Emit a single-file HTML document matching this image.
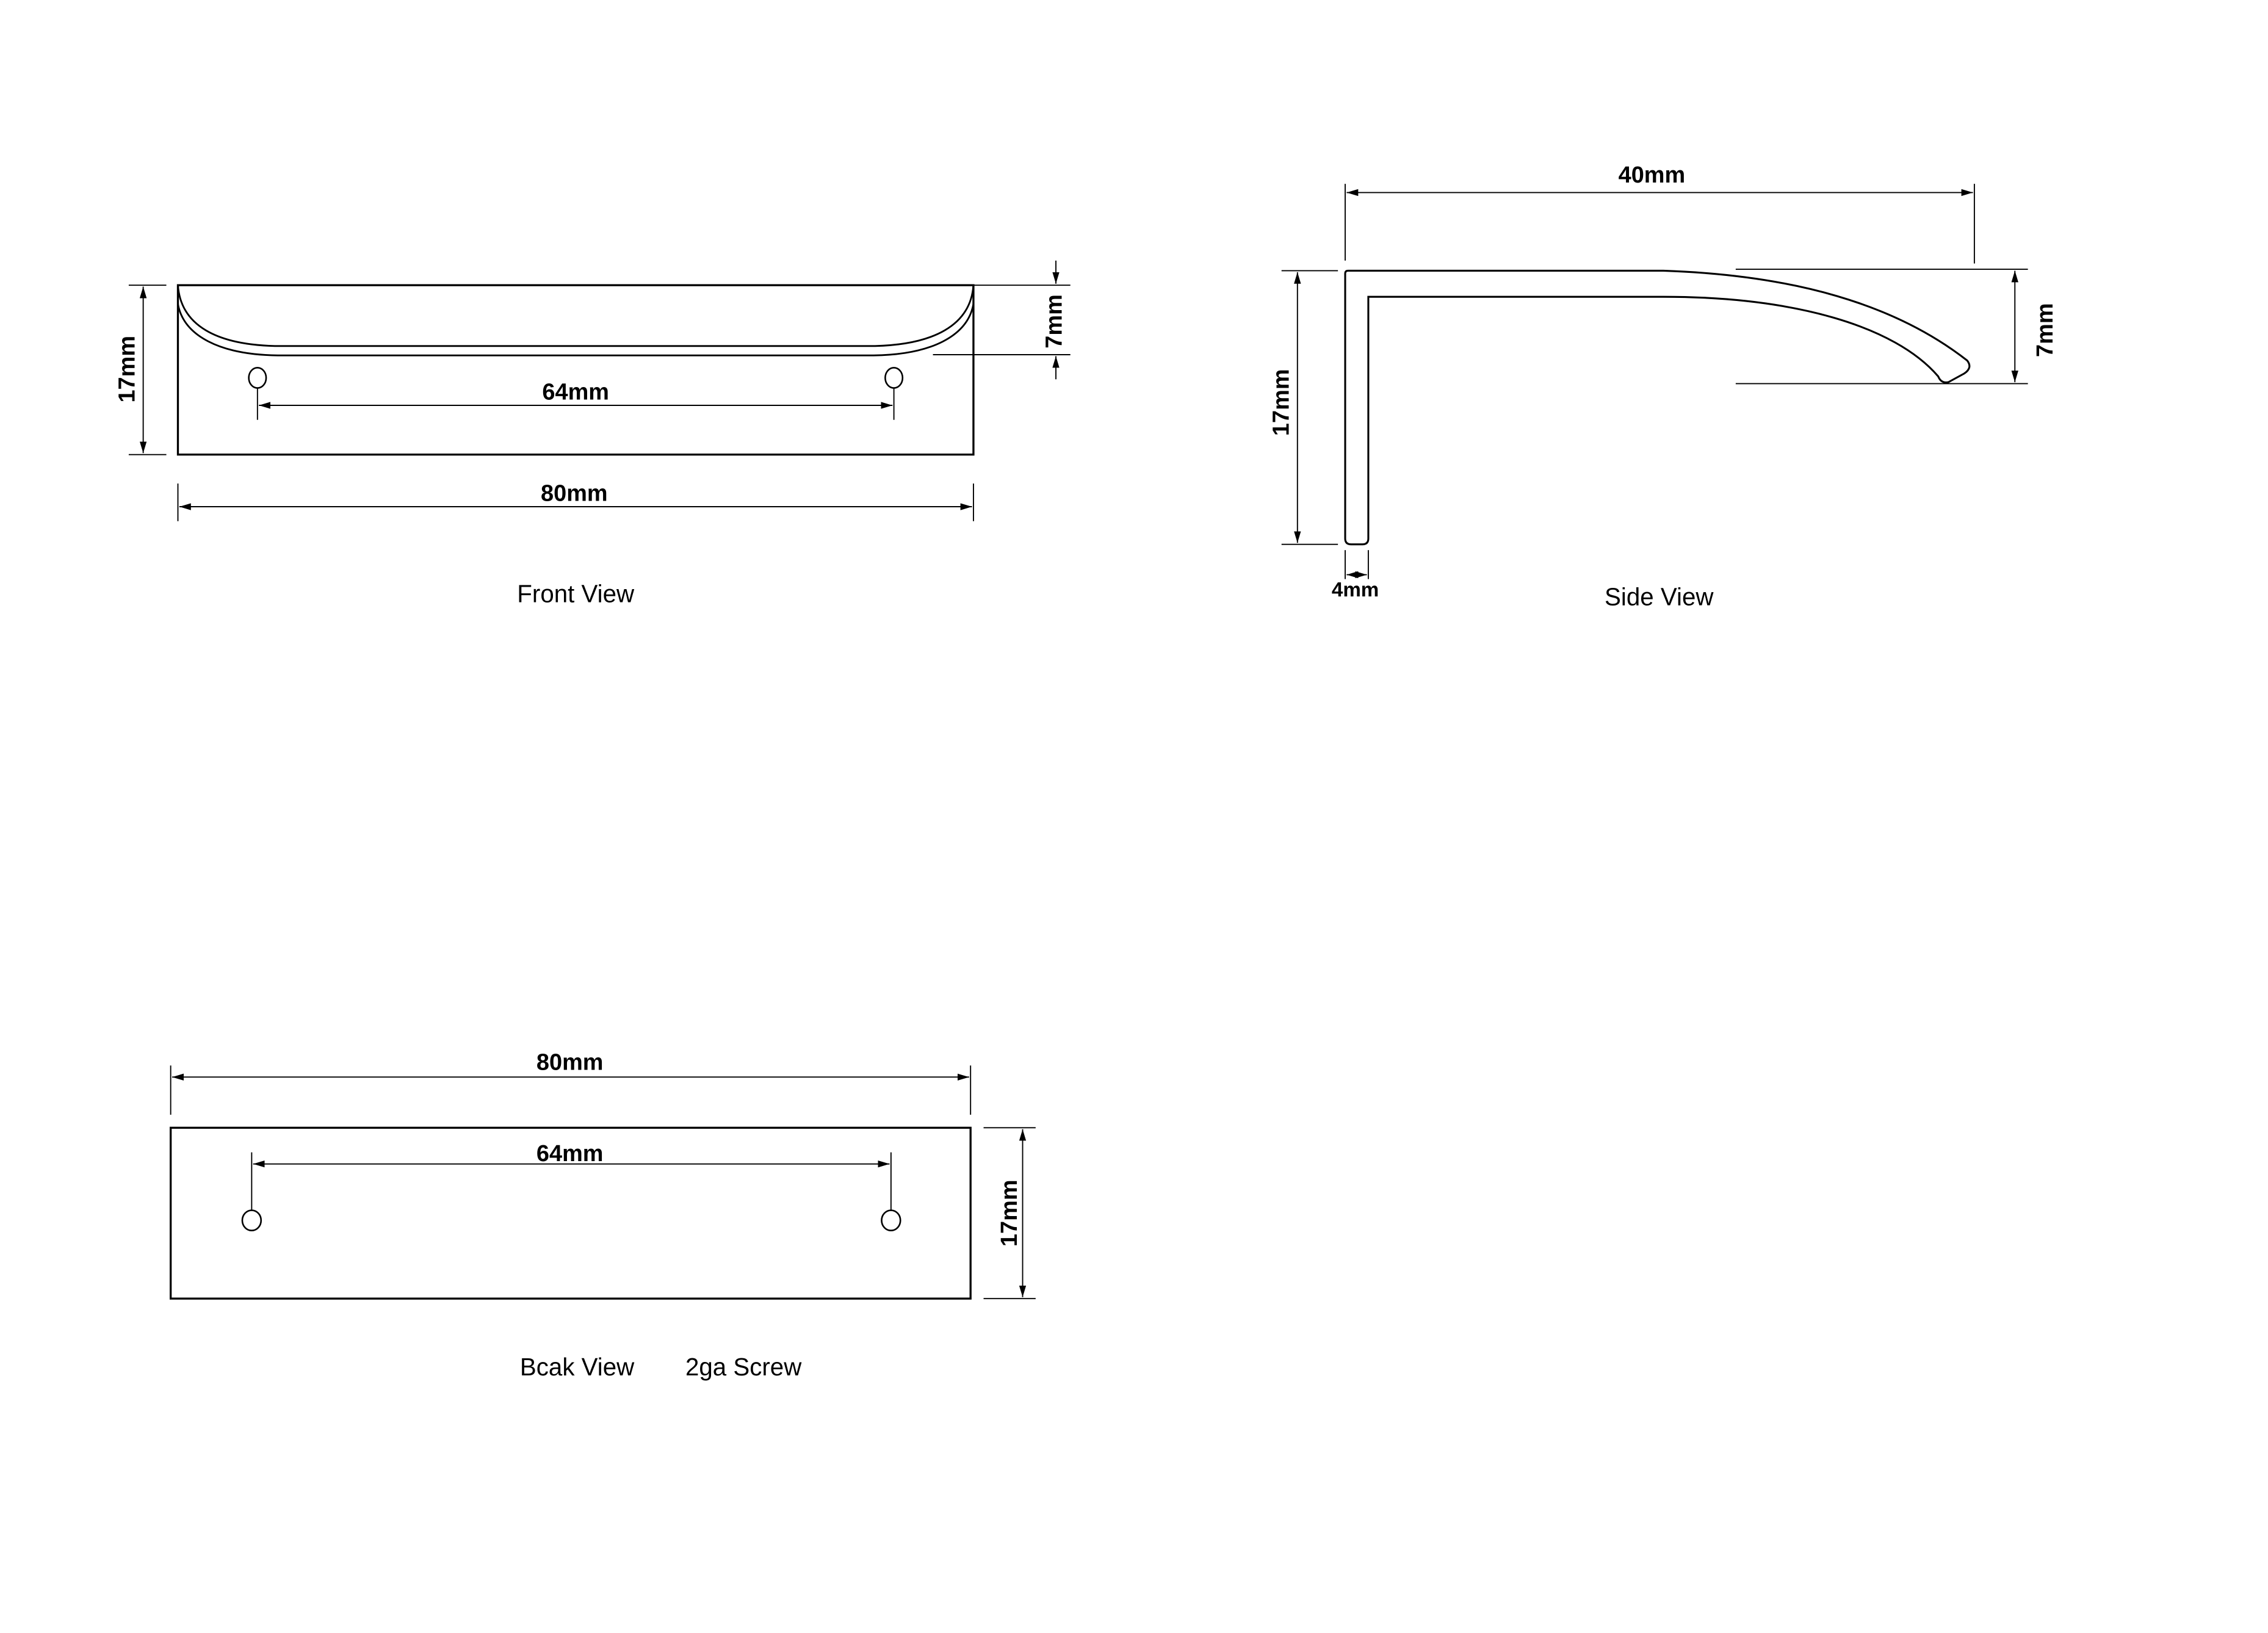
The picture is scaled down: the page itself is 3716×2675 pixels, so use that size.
<!DOCTYPE html>
<html><head><meta charset="utf-8"><style>html,body{margin:0;padding:0;background:#fff}svg{display:block}</style></head><body>
<svg xmlns="http://www.w3.org/2000/svg" width="3716" height="2675" viewBox="0 0 1568 1128" preserveAspectRatio="none">
<defs>
<marker id="a" viewBox="0 0 10 6" refX="10" refY="3" markerWidth="8" markerHeight="5" orient="auto-start-reverse" markerUnits="userSpaceOnUse"><path d="M0,0 L10,3 L0,6 z" fill="#000"/></marker>
</defs>
<g fill="none" stroke="#000">
<!-- Front view -->
<rect x="123" y="197" width="550" height="117" stroke-width="1.4"/>
<path d="M123,197 C125,225 150,238 190,239 L605,239 C645,238 671,225 673,197" stroke-width="1.2"/>
<path d="M123,210 C127,232 152,245 192,245.5 L604,245.5 C644,245 669,232 673,210" stroke-width="1.2"/>
<ellipse cx="178" cy="261" rx="6" ry="7" stroke-width="1.1"/>
<ellipse cx="618" cy="261" rx="6" ry="7" stroke-width="1.1"/>
<g stroke-width="0.8">
<line x1="178" y1="268" x2="178" y2="290"/><line x1="618" y1="268" x2="618" y2="290"/>
<line x1="179" y1="280" x2="617" y2="280" marker-start="url(#a)" marker-end="url(#a)"/>
<line x1="123" y1="334" x2="123" y2="360"/><line x1="673" y1="334" x2="673" y2="360"/>
<line x1="124" y1="350" x2="672" y2="350" marker-start="url(#a)" marker-end="url(#a)"/>
<line x1="89" y1="197" x2="115" y2="197"/><line x1="89" y1="314" x2="115" y2="314"/>
<line x1="99" y1="198" x2="99" y2="313" marker-start="url(#a)" marker-end="url(#a)"/>
<line x1="640" y1="197" x2="740" y2="197"/><line x1="645" y1="245" x2="740" y2="245"/>
<line x1="730" y1="180" x2="730" y2="196" marker-end="url(#a)"/>
<line x1="730" y1="262" x2="730" y2="246" marker-end="url(#a)"/>
</g>
<!-- Side view -->
<path d="M932,187 L1150,187 C1240,190 1310,210 1360,249 Q1364,254 1358,258 L1347,264 Q1342,265 1340,260 C1310,225 1240,205 1150,205 L946,205 L946,372 Q946,376 942,376 L934,376 Q930,376 930,372 L930,189 Q930,187 932,187 Z" stroke-width="1.3"/>
<g stroke-width="0.8">
<line x1="930" y1="127" x2="930" y2="180"/><line x1="1365" y1="127" x2="1365" y2="182"/>
<line x1="931" y1="133" x2="1364" y2="133" marker-start="url(#a)" marker-end="url(#a)"/>
<line x1="886" y1="187" x2="925" y2="187"/><line x1="886" y1="376" x2="925" y2="376"/>
<line x1="897" y1="188" x2="897" y2="375" marker-start="url(#a)" marker-end="url(#a)"/>
<line x1="1200" y1="186" x2="1402" y2="186"/><line x1="1200" y1="265" x2="1402" y2="265"/>
<line x1="1393" y1="187" x2="1393" y2="264" marker-start="url(#a)" marker-end="url(#a)"/>
<line x1="930" y1="380" x2="930" y2="400"/><line x1="946" y1="380" x2="946" y2="400"/>
<line x1="931" y1="397" x2="945" y2="397" marker-start="url(#a)" marker-end="url(#a)"/>
</g>
<!-- Back view -->
<rect x="118" y="779" width="553" height="118" stroke-width="1.4"/>
<ellipse cx="174" cy="843" rx="6.5" ry="7" stroke-width="1.1"/>
<ellipse cx="616" cy="843" rx="6.5" ry="7" stroke-width="1.1"/>
<g stroke-width="0.8">
<line x1="118" y1="736" x2="118" y2="770"/><line x1="671" y1="736" x2="671" y2="770"/>
<line x1="119" y1="744" x2="670" y2="744" marker-start="url(#a)" marker-end="url(#a)"/>
<line x1="174" y1="796" x2="174" y2="836"/><line x1="616" y1="796" x2="616" y2="836"/>
<line x1="175" y1="804" x2="615" y2="804" marker-start="url(#a)" marker-end="url(#a)"/>
<line x1="680" y1="779" x2="716" y2="779"/><line x1="680" y1="897" x2="716" y2="897"/>
<line x1="707" y1="780" x2="707" y2="896" marker-start="url(#a)" marker-end="url(#a)"/>
</g>
</g>
<g font-family="Liberation Sans, sans-serif" fill="#000" text-anchor="middle">
<g font-weight="bold" font-size="16">
<text x="398" y="276">64mm</text>
<text x="397" y="346">80mm</text>
<text transform="translate(93,255) rotate(-90)">17mm</text>
<text transform="translate(734,222) rotate(-90)">7mm</text>
<text x="1142" y="126">40mm</text>
<text transform="translate(891,278) rotate(-90)">17mm</text>
<text transform="translate(1419,228) rotate(-90)">7mm</text>
<text x="937" y="412" font-size="14">4mm</text>
<text x="394" y="739">80mm</text>
<text x="394" y="802">64mm</text>
<text transform="translate(703,838) rotate(-90)">17mm</text>
</g>
<g font-size="17">
<text x="398" y="416">Front View</text>
<text x="1147" y="418">Side View</text>
<text x="399" y="950">Bcak View</text>
<text x="514" y="950">2ga Screw</text>
</g>
</g>
</svg>
</body></html>
